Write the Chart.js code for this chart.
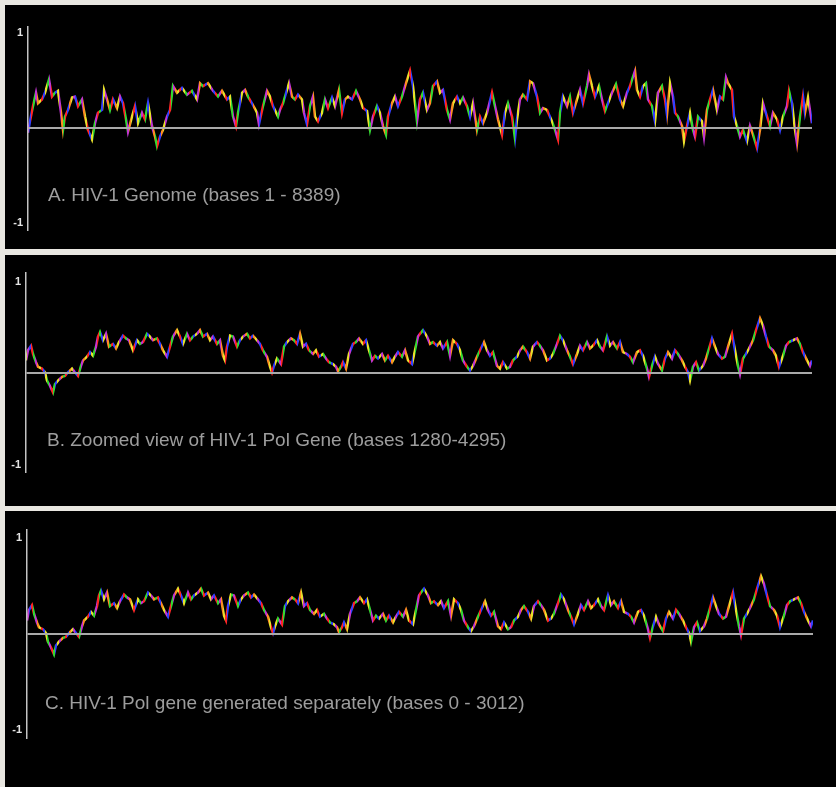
<!DOCTYPE html>
<html lang="en">
<head>
<meta charset="UTF-8" />
<title>HIV-1 sequence profiles</title>
<script src="https://cdn.jsdelivr.net/npm/chart.js@4.4.1/dist/chart.umd.min.js"></script>
<style>
  body {
    margin: 0;
    width: 836px;
    height: 787px;
    background: #e9e7e1;
    position: relative;
    overflow: hidden;
    font-family: "Liberation Sans", Arial, sans-serif;
  }
  .panel { position: absolute; left: 5px; width: 831px; background: #000; }
  .panel canvas { position: absolute; left: 0; top: 0; }
  .caption {
    position: absolute;
    font-size: 19px;
    line-height: 19px;
    color: #9d9d9d;
    white-space: nowrap;
  }
</style>
</head>
<body>
<div class="panel" style="top:5px;height:244px">
  <canvas id="chartA" width="831" height="244"></canvas>
  <div class="caption" style="left:43px;top:180px">A. HIV-1 Genome (bases 1 - 8389)</div>
</div>
<div class="panel" style="top:255px;height:251px">
  <canvas id="chartB" width="831" height="251"></canvas>
  <div class="caption" style="left:42px;top:175px">B. Zoomed view of HIV-1 Pol Gene (bases 1280-4295)</div>
</div>
<div class="panel" style="top:511px;height:276px">
  <canvas id="chartC" width="831" height="276"></canvas>
  <div class="caption" style="left:40px;top:182px">C. HIV-1 Pol gene generated separately (bases 0 - 3012)</div>
</div>

<script>
  // ---- data: window position (px-scaled) and profile value ----
  const posA = [
    0, 2, 5, 8, 10, 14, 17, 21, 24, 27,
    30, 33, 35, 37, 40, 44, 47, 50, 54, 57,
    60, 64, 67, 70, 74, 76, 79, 82, 85, 89,
    92, 95, 98, 100, 104, 107, 110, 114, 117, 120,
    124, 127, 129, 132, 135, 139, 142, 145, 149, 154,
    159, 164, 169, 172, 175, 180, 185, 190, 194, 199,
    202, 205, 208, 210, 214, 217, 220, 224, 229, 231,
    235, 239, 242, 245, 250,
    252, 255, 259, 261, 264, 267, 270, 274, 276, 279,
    282, 285, 287, 290, 294, 297, 300, 304, 307, 311,
    314, 317, 320, 324, 328, 332, 335, 339, 342, 345,
    349, 352, 355, 358, 360, 364, 367, 370, 374, 378,
    382, 385, 387, 389, 392, 395, 399, 402, 405, 409,
    412, 415, 419, 422, 425, 429, 432, 435, 439, 442,
    445, 449, 452, 455, 459, 464, 467, 470, 474, 477,
    480, 484, 487, 489, 492, 495, 499, 502, 505, 509,
    512, 515, 519, 524, 527, 530,
    532, 535, 539, 542, 545, 549, 552, 555, 559, 561,
    564, 567, 571, 574, 577, 580, 584, 588, 592, 595,
    599, 602, 605, 607, 609, 612, 615, 618, 620, 624,
    627, 630, 634, 637, 639, 642, 645, 647, 650, 654,
    656, 659, 662, 665, 667, 670, 674, 676, 679, 682,
    685, 689, 692, 695, 698, 700, 704, 706, 709, 712,
    715, 719, 722, 725, 729, 732, 735, 739, 742, 745,
    749, 752, 755, 759, 761, 764, 767, 769, 772, 775,
    777, 780, 784
  ];
  const valA = [
    -0.05, 0.07, 0.23, 0.37, 0.26, 0.30, 0.37, 0.51, 0.33, 0.37,
    0.39, 0.16, -0.02, 0.12, 0.19, 0.32, 0.33, 0.23, 0.30, 0.12,
    -0.02, -0.12, 0.05, 0.16, 0.19, 0.40, 0.30, 0.19, 0.30, 0.21,
    0.33, 0.26, 0.09, -0.04, 0.12, 0.23, 0.05, 0.16, 0.09, 0.26,
    0.02, -0.09, -0.19, -0.09, -0.02, 0.12, 0.19, 0.44, 0.37, 0.42,
    0.35, 0.39, 0.30, 0.47, 0.44, 0.47, 0.39, 0.33, 0.39, 0.30,
    0.33, 0.12, 0.02, 0.16, 0.37, 0.40, 0.33, 0.26, 0.16, 0.04,
    0.23, 0.39, 0.33, 0.23, 0.12,
    0.19, 0.26, 0.40, 0.47, 0.33, 0.30, 0.35, 0.30, 0.16, 0.04,
    0.23, 0.33, 0.12, 0.07, 0.16, 0.30, 0.21, 0.32, 0.23, 0.40,
    0.16, 0.30, 0.33, 0.30, 0.39, 0.30, 0.21, 0.18, -0.02, 0.12,
    0.23, 0.16, 0.02, -0.07, 0.12, 0.26, 0.33, 0.23, 0.33, 0.47,
    0.60, 0.44, 0.26, 0.07, 0.30, 0.37, 0.19, 0.26, 0.44, 0.49,
    0.37, 0.40, 0.19, 0.09, 0.26, 0.33, 0.26, 0.32, 0.23, 0.12,
    0.26, -0.02, 0.12, 0.05, 0.16, 0.37, 0.23, 0.09, -0.07, 0.16,
    0.26, 0.12, -0.11, 0.09, 0.30, 0.35, 0.30, 0.49, 0.47, 0.33,
    0.16, 0.21, 0.19, 0.07, -0.02, -0.12,
    0.16, 0.33, 0.23, 0.33, 0.16, 0.30, 0.40, 0.26, 0.44, 0.56,
    0.44, 0.33, 0.44, 0.30, 0.18, 0.26, 0.37, 0.46, 0.30, 0.23,
    0.37, 0.44, 0.54, 0.60, 0.40, 0.33, 0.44, 0.47, 0.30, 0.23,
    0.07, 0.37, 0.44, 0.30, 0.14, 0.47, 0.33, 0.16, 0.12, 0.02,
    -0.14, 0.02, 0.16, -0.02, -0.09, 0.12, 0.07, -0.09, 0.19, 0.30,
    0.40, 0.19, 0.33, 0.30, 0.53, 0.47, 0.40, 0.12, 0.02, -0.09,
    -0.02, -0.14, 0.02, -0.07, -0.21, -0.02, 0.26, 0.12, 0.02, 0.16,
    0.09, -0.02, 0.12, 0.23, 0.39, 0.26, -0.02, -0.16, 0.12, 0.33,
    0.16, 0.32, 0.05
  ];

  const posB = [
    0, 2, 5, 7, 10, 12, 16, 19, 21, 24,
    27, 29, 32, 36, 39, 42, 46, 49, 52, 55,
    57, 61, 64, 67, 70, 72, 74, 77, 80, 83,
    87, 90, 93, 97, 100, 103, 107, 111, 114, 117,
    121, 124, 127, 131, 134, 137, 141, 144, 147, 151,
    154, 157, 161, 164, 167, 171, 174, 177, 181, 184,
    187, 191, 194, 197, 199, 201, 204, 207, 211, 214,
    217, 221, 224, 227, 231, 234, 237, 241, 244, 246,
    248, 251, 255, 258, 261, 265, 268, 271, 274, 277,
    280, 283, 287, 290, 293, 297, 300, 303, 307, 310,
    312, 315, 317, 320, 323, 327, 330, 333, 337, 340,
    343, 346, 349, 352, 356, 359, 362, 366, 369, 372,
    376, 379, 382, 386, 389, 392,
    394, 397, 401, 404, 407, 411, 414, 417, 421, 424,
    427, 431, 434, 437, 441, 444, 447, 451, 454, 458,
    461, 464, 467, 471, 474, 477, 481, 484, 487, 491,
    494, 497, 501, 504, 507, 511, 514, 517, 521, 524,
    527, 531, 534, 537, 541, 544, 547, 551, 554, 557,
    561, 564, 567, 571, 574, 577, 581, 584, 587, 591,
    594, 597, 601, 604, 607, 611, 614, 617, 621, 623,
    626, 629, 632, 636, 639, 642, 646, 649, 652, 656,
    659, 662, 664, 667, 670, 673, 677, 680, 683, 686,
    689, 692, 696, 699, 702, 706, 709, 712, 714, 717,
    720, 723, 727, 730, 734, 737, 740, 743, 747, 750,
    753, 757, 760, 763, 767, 771, 774, 777, 781, 784,
    786
  ];
  const valB = [
    0.14, 0.25, 0.30, 0.21, 0.12, 0.07, 0.05, 0.01, -0.08, -0.14,
    -0.21, -0.12, -0.08, -0.04, -0.03, 0.01, 0.05, 0.01, -0.03, 0.08,
    0.14, 0.18, 0.23, 0.19, 0.29, 0.40, 0.45, 0.36, 0.43, 0.29,
    0.32, 0.27, 0.34, 0.41, 0.38, 0.36, 0.25, 0.36, 0.32, 0.34,
    0.43, 0.40, 0.36, 0.38, 0.32, 0.25, 0.18, 0.29, 0.40, 0.47,
    0.40, 0.32, 0.43, 0.36, 0.40, 0.43, 0.47, 0.40, 0.43, 0.36,
    0.40, 0.32, 0.36, 0.19, 0.14, 0.29, 0.41, 0.40, 0.29, 0.36,
    0.40, 0.43, 0.38, 0.41, 0.36, 0.32, 0.25, 0.18, 0.07, 0.01,
    0.08, 0.16, 0.10, 0.29, 0.34, 0.38, 0.36, 0.32, 0.43, 0.29,
    0.32, 0.25, 0.21, 0.25, 0.18, 0.21, 0.16, 0.12, 0.10, 0.07,
    0.02, 0.07, 0.12, 0.05, 0.21, 0.32, 0.34, 0.38, 0.32, 0.36,
    0.25, 0.14, 0.19, 0.16, 0.21, 0.14, 0.19, 0.12, 0.18, 0.23,
    0.18, 0.25, 0.14, 0.10, 0.25, 0.40,
    0.43, 0.47, 0.40, 0.32, 0.34, 0.30, 0.34, 0.27, 0.34, 0.19,
    0.36, 0.32, 0.25, 0.14, 0.07, 0.03, 0.08, 0.18, 0.25, 0.34,
    0.25, 0.19, 0.23, 0.08, 0.05, 0.12, 0.05, 0.07, 0.14, 0.18,
    0.25, 0.29, 0.23, 0.16, 0.29, 0.34, 0.30, 0.25, 0.14, 0.16,
    0.21, 0.32, 0.41, 0.36, 0.25, 0.18, 0.10, 0.21, 0.30, 0.25,
    0.34, 0.27, 0.30, 0.36, 0.29, 0.25, 0.40, 0.30, 0.34, 0.27,
    0.34, 0.23, 0.21, 0.18, 0.12, 0.23, 0.25, 0.19, 0.05, -0.04,
    0.08, 0.18, 0.10, 0.03, 0.16, 0.23, 0.16, 0.25, 0.21, 0.14,
    0.07, 0.01, -0.08, 0.07, 0.12, 0.03, 0.08, 0.16, 0.27, 0.38,
    0.29, 0.21, 0.16, 0.18, 0.29, 0.43, 0.25, 0.08, -0.01, 0.16,
    0.21, 0.27, 0.36, 0.47, 0.60, 0.52, 0.40, 0.29, 0.25, 0.19,
    0.07, 0.19, 0.30, 0.34, 0.36, 0.38, 0.32, 0.23, 0.14, 0.08,
    0.14
  ];

  // panel C is the same Pol region generated on its own, it reads the same
  const posC = posB;
  const valC = valB;

  const Y_TICKS = [-1, 0, 1];
  const LINE_COLORS = ["#ff2626", "#e8e02c", "#34d834", "#3440ff", "#c236d0", "#ff8c22"];
  // order of colour bands in one repeat of the stripe tile
  const BAND_ORDER = [0, 2, 3, 1, 4, 5, 2, 0, 3, 5, 1, 4, 3, 0, 2, 4, 5, 1, 0, 3, 1, 2, 4];
  const BAND_PX = 2;

  let stripeTile = null;
  // thin vertical bands of colour, used as the pattern of the trace
  function stripes(chart) {
    if (!stripeTile) {
      const tile = document.createElement("canvas");
      tile.width = BAND_ORDER.length * BAND_PX;
      tile.height = 4;
      const tctx = tile.getContext("2d");
      BAND_ORDER.forEach((k, i) => {
        tctx.fillStyle = LINE_COLORS[k];
        tctx.fillRect(i * BAND_PX, 0, BAND_PX, 4);
      });
      stripeTile = tile;
    }
    return chart.ctx.createPattern(stripeTile, "repeat");
  }

  function drawPanel(id, xs, ys, opts) {
    new Chart(document.getElementById(id), {
      type: "line",
      data: {
        datasets: [{
          data: xs.map((x, i) => ({ x: x, y: ys[i] })),
          borderWidth: 2.5,
          borderColor: (c) => stripes(c.chart),
          pointRadius: 0,
          tension: 0,
        }],
      },
      options: {
        responsive: false,
        animation: false,
        events: [],
        layout: { padding: { left: 0, right: opts.right, top: opts.top, bottom: opts.bottom } },
        plugins: { legend: { display: false }, tooltip: { enabled: false } },
        scales: {
          x: { type: "linear", display: false, min: 0, max: opts.xMax },
          y: {
            min: opts.yMin,
            max: opts.yMax,
            afterBuildTicks: (s) => { s.ticks = Y_TICKS.map((v) => ({ value: v })); },
            afterFit: (s) => { s.width = opts.left; },
            ticks: {
              color: "#e4e4e4",
              padding: 5,
              font: { family: "Liberation Sans", size: 11, weight: "bold" },
              callback: (v) => (v === 0 ? "" : String(v)),
            },
            grid: {
              z: 1,
              drawTicks: false,
              lineWidth: 2,
              color: (c) => (c.tick && c.tick.value === 0 ? "#a9a9a9" : "rgba(0,0,0,0)"),
            },
            border: { display: true, z: 2, color: "#c4c4c4", width: 1.5 },
          },
        },
      },
    });
  }

  drawPanel("chartA", posA, valA, { left: 23, right: 24, top: 22, bottom: 19, xMax: 784, yMin: -1.07, yMax: 1.06 });
  drawPanel("chartB", posB, valB, { left: 21, right: 24, top: 18, bottom: 34, xMax: 786, yMin: -1.08, yMax: 1.095 });
  drawPanel("chartC", posC, valC, { left: 22, right: 23, top: 19, bottom: 49, xMax: 786, yMin: -1.08, yMax: 1.08 });
</script>
</body>
</html>
